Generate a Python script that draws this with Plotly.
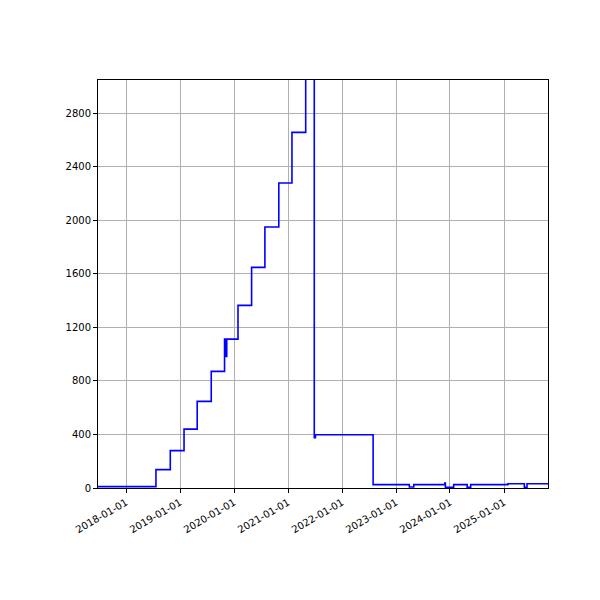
import plotly.graph_objects as go

dates = ["2017-06-25","2018-07-22","2018-10-27","2019-01-28","2019-04-27","2019-07-31",
         "2019-10-29","2019-11-02","2019-11-13","2020-01-28","2020-04-29","2020-07-28",
         "2020-10-30","2021-01-27","2021-04-30","2021-06-27","2021-07-05","2022-07-30",
         "2023-04-01","2023-05-01","2023-11-27","2023-12-01","2024-01-26","2024-04-26",
         "2024-05-20","2025-01-27","2025-05-18","2025-06-05","2025-10-25"]
values = [10,137,279,440,647,871,
          1112,983,1112,1364,1648,1949,
          2278,2656,3400,375,398,25,
          8,25,37,5,25,5,
          25,32,5,32,32]
tick_vals = ["2018-01-01","2019-01-01","2020-01-01","2021-01-01","2022-01-01",
             "2023-01-01","2024-01-01","2025-01-01"]
y_ticks = [0,400,800,1200,1600,2000,2400,2800]

fig = go.Figure(go.Scatter(x=dates, y=values, mode="lines", line_shape="hv",
                           line=dict(color="#0000ff", width=1.6)))
ax = dict(showline=True, linecolor="black", linewidth=1, mirror=True,
          showgrid=True, gridcolor="#b0b0b0", gridwidth=1, ticks="outside",
          ticklen=4, tickcolor="black", zeroline=False, automargin=False,
          tickfont=dict(family="DejaVu Sans", size=10, color="black"))
fig.update_xaxes(**ax, range=["2017-06-25","2025-10-25"], tickvals=tick_vals,
                 ticktext=tick_vals, tickangle=-30)
fig.update_yaxes(**ax, range=[0,3047], tickvals=y_ticks)
fig.update_layout(width=600, height=600, margin=dict(l=90, r=60, t=72, b=120),
                  plot_bgcolor="white", paper_bgcolor="white", showlegend=False)
fig.write_html("out.html")
